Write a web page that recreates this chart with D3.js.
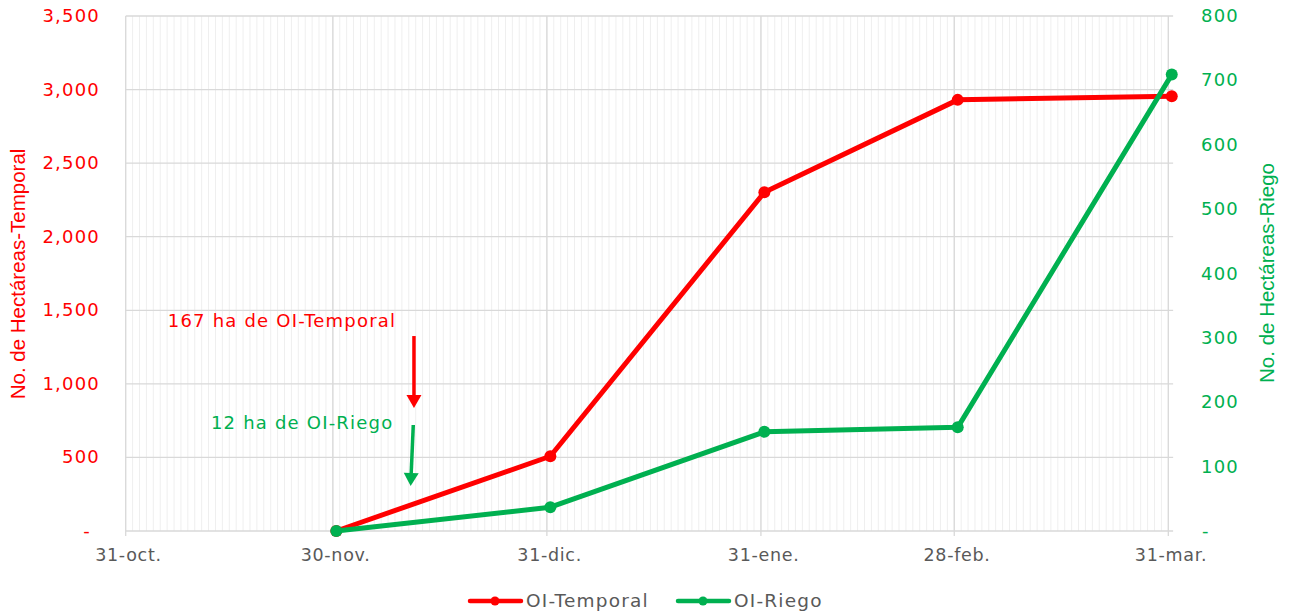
<!DOCTYPE html>
<html><head><meta charset="utf-8">
<script src="https://cdn.jsdelivr.net/npm/d3@7"></script>
<style>body{margin:0;background:#fff}</style>
</head><body><svg id="c" width="1290" height="614"></svg>
<script>
// ---- data ----
const dates = ["2022-11-30","2022-12-31","2023-01-31","2023-02-28","2023-03-31"];
const temporal = [0, 508, 2302, 2930, 2955];
const riego = [0, 37, 154, 161, 709];
const xTickDates = ["2022-10-31","2022-11-30","2022-12-31","2023-01-31","2023-02-28","2023-03-31"];
const xTickLabels = ["31-oct.","30-nov.","31-dic.","31-ene.","28-feb.","31-mar."];
const leftTicks = [0,500,1000,1500,2000,2500,3000,3500];
const rightTicks = [0,100,200,300,400,500,600,700,800];
const seriesNames = ["OI-Temporal","OI-Riego"];
const annotTexts = ["167 ha de OI-Temporal","12 ha de OI-Riego"];

const RED = "#FF0000", GREEN = "#00B050", GRAY = "#595959";
const FONT = "'DejaVu Sans', sans-serif";
const svg = d3.select("#c");
const parse = d3.utcParse("%Y-%m-%d");
const DAY = 864e5;

const x = d3.scaleUtc().domain([parse("2022-10-31"), parse("2023-03-31")]).range([125.7, 1168.3]);
const yL = d3.scaleLinear().domain([0, 3500]).range([531, 16]);
const yR = d3.scaleLinear().domain([0, 800]).range([531, 16]);
const x0 = x.range()[0], x1 = x(new Date(+parse("2023-03-31") + 0.7*DAY));
const off = d => new Date(+d + 0.5*DAY);

// minor daily grid
const days = d3.utcDay.range(parse("2022-10-31"), parse("2023-04-01"));
svg.append("g").selectAll("line").data(days).join("line")
  .attr("x1", d => x(d)).attr("x2", d => x(d)).attr("y1", yL(3500)).attr("y2", yL(0))
  .attr("stroke", "#efefef").attr("stroke-width", 1);

// horizontal grid
svg.append("g").selectAll("line").data(leftTicks).join("line")
  .attr("x1", x0).attr("x2", x1).attr("y1", d => yL(d)).attr("y2", d => yL(d))
  .attr("stroke", "#d9d9d9").attr("stroke-width", 1.3);

// major vertical grid with ticks
svg.append("g").selectAll("line").data(xTickDates.map(parse)).join("line")
  .attr("x1", d => x(d)).attr("x2", d => x(d)).attr("y1", yL(3500)).attr("y2", yL(0) + 5)
  .attr("stroke", "#d9d9d9").attr("stroke-width", 1.3);

// x labels
svg.append("g").selectAll("text").data(xTickDates).join("text")
  .attr("x", d => x(new Date(+parse(d) + 0.4*DAY))).attr("y", 561)
  .attr("text-anchor", "middle").attr("font-family", FONT).attr("font-size", 17.5)
  .attr("letter-spacing", 0.7).attr("fill", GRAY).text((d, i) => xTickLabels[i]);

// left axis labels
svg.append("g").selectAll("text").data(leftTicks).join("text")
  .attr("x", d => d === 0 ? 91 : 100).attr("y", d => yL(d) + 6)
  .attr("text-anchor", "end").attr("font-family", FONT).attr("font-size", 18)
  .attr("letter-spacing", 1.2).attr("fill", RED).text(d => d === 0 ? "-" : d3.format(",")(d));

// right axis labels
svg.append("g").selectAll("text").data(rightTicks).join("text")
  .attr("x", d => d === 0 ? 1202 : 1201).attr("y", d => yR(d) + 6)
  .attr("text-anchor", "start").attr("font-family", FONT).attr("font-size", 18)
  .attr("letter-spacing", 1.2).attr("fill", GREEN).text(d => d === 0 ? "-" : d3.format(",")(d));

// axis titles
svg.append("text").attr("transform", "translate(25,274) rotate(-90)")
  .attr("text-anchor", "middle").attr("font-family", "'Liberation Sans', Arial, sans-serif")
  .attr("font-size", 20.5).attr("fill", RED).text("No. de Hectáreas-Temporal");
svg.append("text").attr("transform", "translate(1274,273) rotate(-90)")
  .attr("text-anchor", "middle").attr("font-family", "'Liberation Sans', Arial, sans-serif")
  .attr("font-size", 20.5).attr("fill", GREEN).text("No. de Hectáreas-Riego");

// series
const dd = dates.map(parse);
function drawSeries(vals, y, color) {
  const pts = dd.map((d, i) => [x(off(d)), y(vals[i])]);
  svg.append("path").attr("d", d3.line()(pts)).attr("fill", "none")
    .attr("stroke", color).attr("stroke-width", 5).attr("stroke-linejoin", "round").attr("stroke-linecap", "round");
  svg.append("g").selectAll("circle").data(pts).join("circle")
    .attr("cx", p => p[0]).attr("cy", p => p[1]).attr("r", 6).attr("fill", color);
}
drawSeries(temporal, yL, RED);
drawSeries(riego, yR, GREEN);

// annotations
const od = n => new Date(+parse("2022-10-31") + n*DAY);
svg.append("text").attr("x", x(od(6.1))).attr("y", yL(1386))
  .attr("font-family", FONT).attr("font-size", 18).attr("letter-spacing", 1.2)
  .attr("fill", RED).text(annotTexts[0]);
svg.append("text").attr("x", x(od(12.35))).attr("y", yR(158.4))
  .attr("font-family", FONT).attr("font-size", 18).attr("letter-spacing", 1.2)
  .attr("fill", GREEN).text(annotTexts[1]);

function arrow(xTop, yTop, xTip, yTip, color) {
  const ang = Math.atan2(yTip - yTop, xTip - xTop);
  const hl = 13, hw = 7.5;
  const bx = xTip - hl*Math.cos(ang), by = yTip - hl*Math.sin(ang);
  svg.append("line").attr("x1", xTop).attr("y1", yTop).attr("x2", bx).attr("y2", by)
    .attr("stroke", color).attr("stroke-width", 3.5);
  const px = -Math.sin(ang), py = Math.cos(ang);
  svg.append("path").attr("d", `M${xTip},${yTip}L${bx + px*hw},${by + py*hw}L${bx - px*hw},${by - py*hw}Z`).attr("fill", color);
}
arrow(x(od(41.75)), yL(1325), x(od(41.75)), yL(836), RED);
arrow(x(od(41.65)), yR(164.7), x(od(41.27)), yR(69.9), GREEN);

// legend
const leg = svg.append("g");
[[470, RED, seriesNames[0]], [678, GREEN, seriesNames[1]]].forEach(([lx, c, t]) => {
  leg.append("line").attr("x1", lx).attr("x2", lx + 51).attr("y1", 601).attr("y2", 601)
    .attr("stroke", c).attr("stroke-width", 4.5).attr("stroke-linecap", "round");
  leg.append("circle").attr("cx", lx + 25).attr("cy", 601).attr("r", 4.5).attr("fill", c);
  leg.append("text").attr("x", lx + 56).attr("y", 607).attr("font-family", FONT)
    .attr("font-size", 18.5).attr("letter-spacing", 1.2).attr("fill", GRAY).text(t);
});
</script></body></html>
